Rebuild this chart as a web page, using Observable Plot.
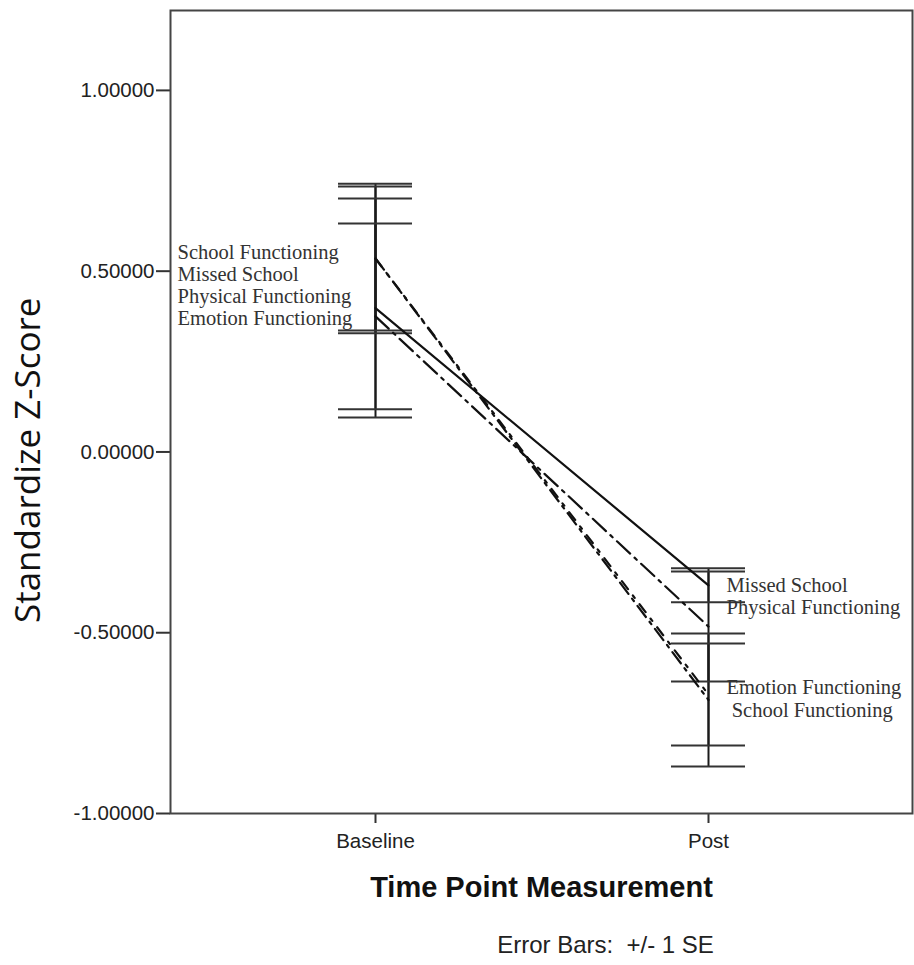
<!DOCTYPE html>
<html>
<head>
<meta charset="utf-8">
<script src="https://cdn.jsdelivr.net/npm/d3@7"></script>
<script src="https://cdn.jsdelivr.net/npm/@observablehq/plot@0.6"></script>
<style>
  html, body { margin: 0; padding: 0; background: #fff; }
  svg { display: block; }
</style>
</head>
<body>
<div id="chart"></div>
<script>
// ---- data ----
const timePoints = ["Baseline", "Post"];
const series = ["School Functioning", "Missed School", "Physical Functioning", "Emotion Functioning"];
const meanBaseline = [0.535, 0.398, 0.375, 0.535];
const seBaseline   = [0.207, 0.303, 0.257, 0.199];
const meanPost     = [-0.686, -0.369, -0.483, -0.671];
const sePost       = [0.184, 0.047, 0.152, 0.141];
const yTicks = [-1, -0.5, 0, 0.5, 1];

const baselineLabels = ["School Functioning", "Missed School", "Physical Functioning", "Emotion Functioning"];
const baselineLabelY = [0.5325, 0.4716, 0.4108, 0.35];
const postLabels = ["Missed School", "Physical Functioning", "Emotion Functioning", "\u00a0School Functioning"];
const postLabelY = [-0.386, -0.449, -0.670, -0.732];

const yTitle = "Standardize Z-Score";
const xTitle = "Time Point Measurement";
const captionText = "Error Bars:\u00a0 +/- 1 SE";

// line styles per series
const dashes = {
  "School Functioning": "14,6,3,6",
  "Missed School": null,
  "Physical Functioning": "18,6,3,6",
  "Emotion Functioning": "10,8,3,8"
};

// ---- table ----
const rows = series.flatMap((s, i) => [
  {series: s, time: timePoints[0], mean: meanBaseline[i], se: seBaseline[i]},
  {series: s, time: timePoints[1], mean: meanPost[i], se: sePost[i]}
]);
const bLab = baselineLabels.map((t, i) => ({time: timePoints[0], text: t, y: baselineLabelY[i]}));
const pLab = postLabels.map((t, i) => ({time: timePoints[1], text: t, y: postLabelY[i]}));

const ink = "#1a1a1a";
const serif = "'Liberation Serif', 'Times New Roman', serif";
const fmt = d => d3.format(".5f")(d).replace("\u2212", "-");

const marks = [
  // error bars
  Plot.ruleX(rows, {x: "time", y1: d => d.mean - d.se, y2: d => d.mean + d.se, stroke: ink, strokeWidth: 2}),
  Plot.tickY(rows, {x: "time", y: d => d.mean - d.se, stroke: "#333", strokeWidth: 2}),
  Plot.tickY(rows, {x: "time", y: d => d.mean + d.se, stroke: "#333", strokeWidth: 2}),
  // series lines
  ...series.map(s => Plot.line(rows.filter(d => d.series === s), {
    x: "time", y: "mean", stroke: "#111", strokeWidth: 2.2,
    strokeDasharray: dashes[s] || undefined
  })),
  // labels
  Plot.text(bLab, {x: "time", y: "y", text: "text", textAnchor: "start", lineAnchor: "bottom",
    dx: -198, fontFamily: serif, fontSize: 20.5, fill: "#333"}),
  Plot.text(pLab, {x: "time", y: "y", text: "text", textAnchor: "start", lineAnchor: "bottom",
    dx: 18, fontFamily: serif, fontSize: 20.5, fill: "#333"}),
  // axes
  Plot.axisY(yTicks, {tickSize: 14, tickPadding: 2, tickFormat: fmt, label: null,
    fontSize: 20.5, stroke: "#333", strokeWidth: 2}),
  Plot.axisX({tickSize: 10, tickPadding: 10, label: null, fontSize: 20.5, stroke: "#333", strokeWidth: 2}),
  // frame
  Plot.frame({stroke: "#444", strokeWidth: 2}),
  // titles
  Plot.text([yTitle], {frameAnchor: "left", rotate: -90, dx: -142, dy: 211,
    fontFamily: "'Open Sans', sans-serif", fontSize: 35, fill: "#111"}),
  Plot.text([xTitle], {frameAnchor: "bottom", dy: 83, fontWeight: "bold", fontSize: 29, fill: "#111"}),
  Plot.text([captionText], {frameAnchor: "bottom", dx: 64, dy: 139, fontSize: 24, fill: "#222"})
];

const chart = Plot.plot({
  width: 914,
  height: 965,
  marginLeft: 170,
  marginRight: 2,
  marginTop: 10,
  marginBottom: 152,
  style: {fontFamily: "'Liberation Sans', Arial, sans-serif", fontSize: "20px", background: "#fff", color: "#222"},
  x: {type: "band", domain: timePoints, paddingInner: 0.778, paddingOuter: 0.5, label: null},
  y: {domain: [-1, 1.221], label: null},
  marks
});
document.getElementById("chart").appendChild(chart);
</script>
</body>
</html>
